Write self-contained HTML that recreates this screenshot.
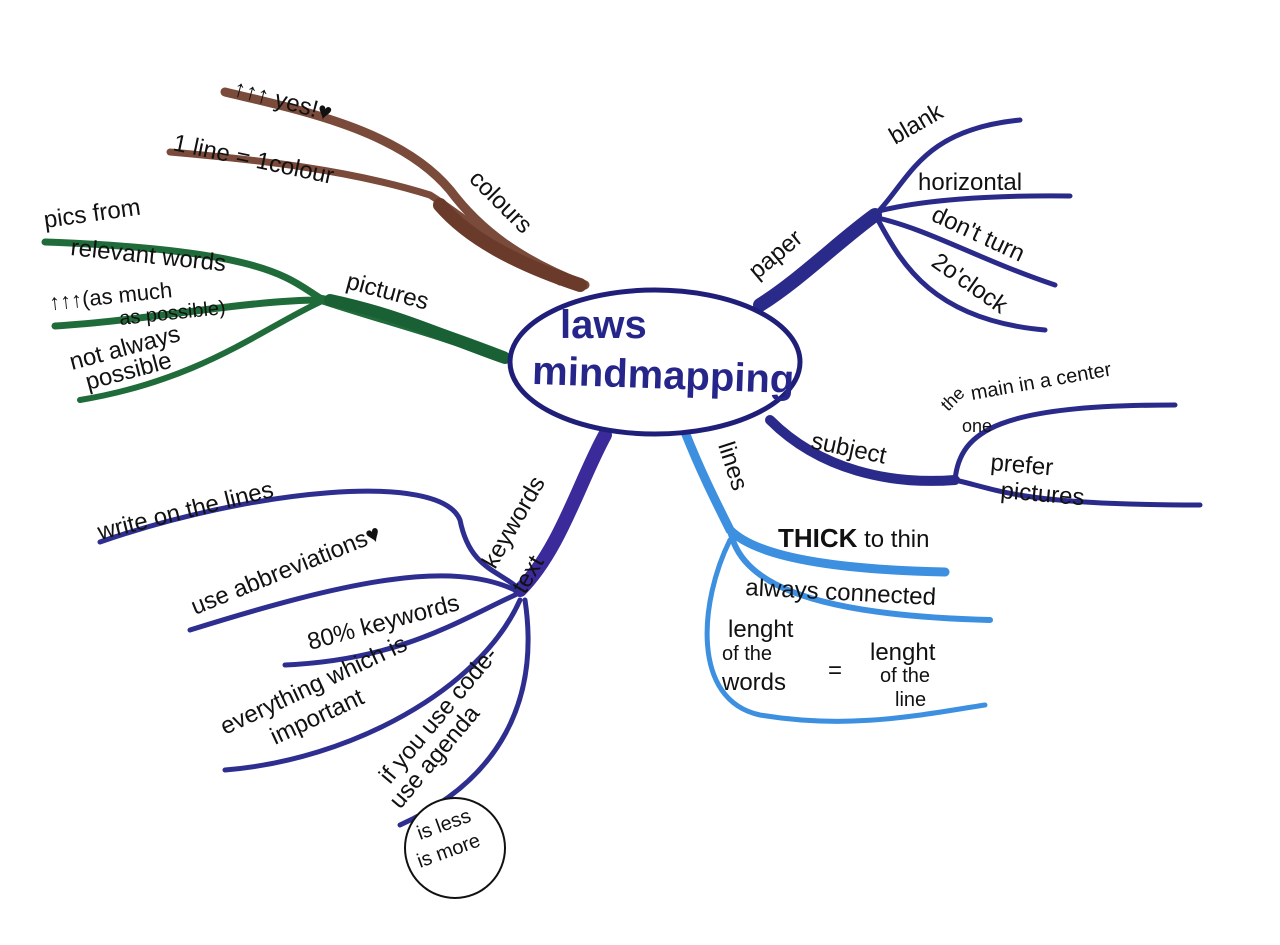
<!DOCTYPE html>
<html><head><meta charset="utf-8"><style>
html,body{margin:0;padding:0;background:#fff;}
svg{display:block}
text{font-family:"Liberation Sans",sans-serif;}
</style></head><body>
<svg width="1280" height="945" viewBox="0 0 1280 945" xmlns="http://www.w3.org/2000/svg">
<rect width="1280" height="945" fill="#fff"/>
<g fill="none" stroke-linecap="round">
<path d="M585,285 C520,260 480,230 450,190 C400,130 300,110 225,92" stroke="#7a4a3a" stroke-width="9"/>
<path d="M560,282 C500,250 470,220 430,195 C350,170 260,160 170,152" stroke="#7a4a3a" stroke-width="7"/>
<path d="M580,285 C520,265 470,240 440,205" stroke="#6a3a2a" stroke-width="14"/>
<path d="M505,355 C440,330 380,310 320,298 C290,280 270,250 45,242" stroke="#1f6b3a" stroke-width="7"/>
<path d="M505,360 C440,335 380,320 320,300 C250,300 150,320 55,326" stroke="#1f6b3a" stroke-width="7"/>
<path d="M320,302 C260,330 200,380 80,400" stroke="#1f6b3a" stroke-width="6"/>
<path d="M505,358 C440,335 400,315 330,300" stroke="#1a6035" stroke-width="12"/>
<path d="M760,305 C800,280 840,240 875,215" stroke="#2a2a8a" stroke-width="14"/>
<path d="M875,215 C910,180 920,130 1020,120" stroke="#2a2a8a" stroke-width="5"/>
<path d="M875,212 C920,200 990,195 1070,196" stroke="#2a2a8a" stroke-width="5"/>
<path d="M878,218 C930,230 980,260 1055,285" stroke="#2a2a8a" stroke-width="5"/>
<path d="M878,220 C900,260 930,320 1045,330" stroke="#2a2a8a" stroke-width="5"/>
<path d="M770,420 C820,470 890,485 955,480" stroke="#2a2a8a" stroke-width="10"/>
<path d="M955,480 C960,430 1000,405 1175,405" stroke="#2a2a8a" stroke-width="5"/>
<path d="M955,480 C1000,490 1020,505 1200,505" stroke="#2a2a8a" stroke-width="5"/>
<path d="M685,432 C700,470 715,500 730,530 C760,560 850,570 945,572" stroke="#3d8fe0" stroke-width="9"/>
<path d="M730,530 C740,580 800,615 990,620" stroke="#3d8fe0" stroke-width="6"/>
<path d="M730,540 C700,600 690,700 760,715 C850,730 920,715 985,705" stroke="#3d8fe0" stroke-width="5"/>
<path d="M605,435 C580,480 560,550 520,590" stroke="#3a2a9a" stroke-width="14"/>
<path d="M520,590 C500,570 470,570 460,520 C440,470 250,490 100,542" stroke="#2e2e90" stroke-width="5"/>
<path d="M515,590 C450,560 350,580 190,630" stroke="#2e2e90" stroke-width="5"/>
<path d="M515,595 C460,620 400,660 285,665" stroke="#2e2e90" stroke-width="5"/>
<path d="M520,600 C480,690 350,760 225,770" stroke="#2e2e90" stroke-width="5"/>
<path d="M525,600 C540,700 500,780 400,825" stroke="#2e2e90" stroke-width="5"/>
</g>
<ellipse cx="655" cy="362" rx="145" ry="72" fill="#fff" stroke="#1f1f7a" stroke-width="5"/>
<circle cx="455" cy="848" r="50" fill="#fff" stroke="#111" stroke-width="2"/>
<g fill="#26268a" font-size="40" font-weight="bold">
<text x="560" y="338">laws</text>
<text x="532" y="388" transform="rotate(2 650 380)">mindmapping</text>
</g>
<g fill="#111" font-size="24">
<text x="232" y="95" transform="rotate(15 232 95)">↑↑↑ yes!♥</text>
<text x="172" y="150" transform="rotate(12 172 150)">1 line = 1colour</text>
<text x="468" y="180" transform="rotate(45 468 180)">colours</text>
<text x="45" y="228" transform="rotate(-8 45 228)">pics from</text>
<text x="70" y="255" transform="rotate(6 70 255)">relevant words</text>
<text x="50" y="310" font-size="22" transform="rotate(-6 50 310)">↑↑↑(as much</text>
<text x="120" y="325" font-size="20" transform="rotate(-6 120 325)">as possible)</text>
<text x="72" y="370" transform="rotate(-15 72 370)">not always</text>
<text x="88" y="390" transform="rotate(-15 88 390)">possible</text>
<text x="345" y="288" transform="rotate(15 345 288)">pictures</text>
<text x="757" y="280" transform="rotate(-40 757 280)">paper</text>
<text x="895" y="145" transform="rotate(-30 895 145)">blank</text>
<text x="918" y="190">horizontal</text>
<text x="930" y="220" transform="rotate(25 930 220)">don't turn</text>
<text x="930" y="265" transform="rotate(35 930 265)">2o'clock</text>
<text x="810" y="448" transform="rotate(12 810 448)">subject</text>
<text x="948" y="412" font-size="18" transform="rotate(-45 948 412)">the</text>
<text x="972" y="400" font-size="20" transform="rotate(-10 972 400)">main in a center</text>
<text x="962" y="432" font-size="18">one</text>
<text x="990" y="470" transform="rotate(5 990 470)">prefer</text>
<text x="1000" y="498" transform="rotate(5 1000 498)">pictures</text>
<text x="718" y="445" transform="rotate(72 718 445)">lines</text>
<text x="778" y="547"><tspan font-weight="bold" font-size="26">THICK</tspan> to thin</text>
<text x="745" y="595" transform="rotate(3 745 595)">always connected</text>
<text x="728" y="637">lenght</text>
<text x="722" y="660" font-size="20">of the</text>
<text x="722" y="690">words</text>
<text x="828" y="678">=</text>
<text x="870" y="660">lenght</text>
<text x="880" y="682" font-size="20">of the</text>
<text x="895" y="706" font-size="20">line</text>
<text x="100" y="540" transform="rotate(-14 100 540)">write on the lines</text>
<text x="195" y="615" transform="rotate(-22 195 615)">use abbreviations♥</text>
<text x="310" y="650" transform="rotate(-15 310 650)">80% keywords</text>
<text x="225" y="735" transform="rotate(-25 225 735)">everything which is</text>
<text x="275" y="745" transform="rotate(-25 275 745)">important</text>
<text x="390" y="785" transform="rotate(-50 390 785)">if you use code-</text>
<text x="400" y="810" transform="rotate(-50 400 810)">use agenda</text>
<text x="495" y="570" transform="rotate(-60 495 570)">keywords</text>
<text x="525" y="595" transform="rotate(-60 525 595)">text</text>
<text x="420" y="840" font-size="20" transform="rotate(-20 420 840)">is less</text>
<text x="420" y="868" font-size="20" transform="rotate(-20 420 868)">is more</text>
</g>
</svg>
</body></html>
